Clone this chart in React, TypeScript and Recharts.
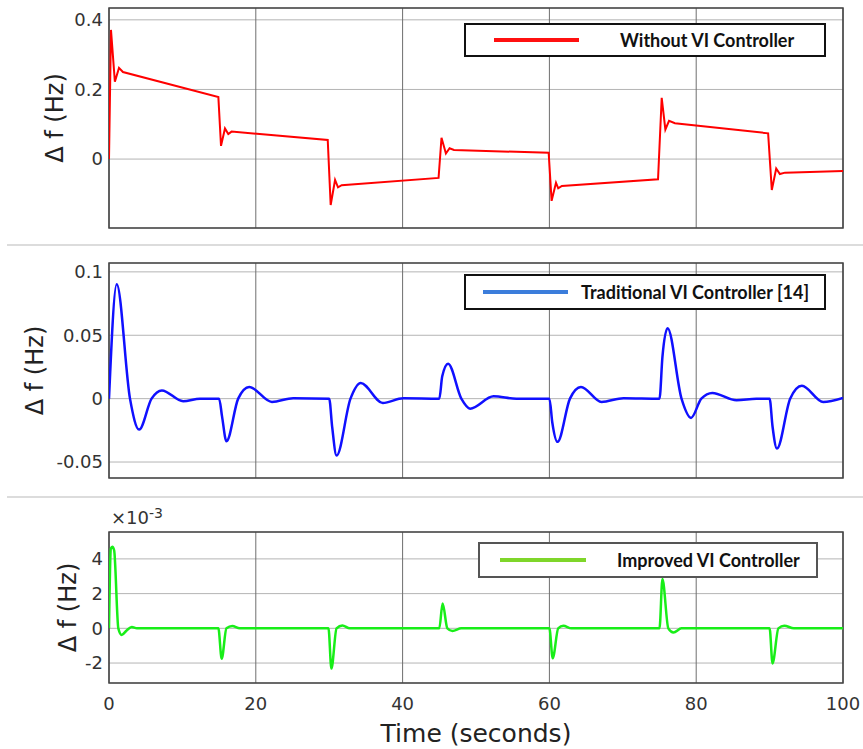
import React from "react";
import {
  LineChart,
  Line,
  XAxis,
  YAxis,
  CartesianGrid,
  ReferenceArea,
  Legend,
} from "recharts";

// time axis (seconds)
const timeTicks = [0, 20, 40, 60, 80, 100];

// Without VI controller (Hz)
const withoutT = [
  0, 0.27, 0.8, 1.36, 1.9, 14.9, 15.26, 15.8, 16.25, 16.7, 29.8, 30.2, 30.8,
  31.2, 31.7, 44.9, 45.3, 45.9, 46.4, 47.0, 59.9, 60.3, 60.9, 61.2, 61.7, 74.8,
  75.3, 75.8, 76.3, 77.1, 89.8, 90.3, 90.9, 91.4, 92.1, 100,
];
const withoutF = [
  0, 0.371, 0.222, 0.262, 0.25, 0.178, 0.038, 0.088, 0.072, 0.079, 0.055,
  -0.132, -0.06, -0.081, -0.075, -0.054, 0.061, 0.016, 0.031, 0.026, 0.018,
  -0.12, -0.068, -0.084, -0.077, -0.058, 0.176, 0.085, 0.11, 0.103, 0.074,
  -0.089, -0.027, -0.043, -0.039, -0.034,
];

// Traditional VI controller [14] (Hz)
const traditionalT = [
  0, 1.05, 2.86, 4.1, 5.8, 7.2, 10.1, 12.4, 15.0, 15.4, 16.0, 17.6, 19.1, 22.2,
  25.1, 30.0, 30.4, 31.0, 32.9, 34.3, 37.3, 40.1, 45.0, 45.4, 46.2, 48.0, 49.2,
  52.4, 55.5, 60.0, 60.4, 61.1, 62.8, 64.3, 67.1, 70.1, 75.0, 75.4, 76.1, 78.0,
  79.3, 80.7, 82.2, 85.5, 88.2, 90.0, 90.4, 91.0, 92.8, 94.4, 97.3, 100,
];
const traditionalF = [
  0, 0.0903, 0, -0.0244, 0, 0.0065, -0.0021, 0, 0, -0.014, -0.0336, 0, 0.0092,
  -0.0026, 0.0004, 0, -0.022, -0.0449, 0, 0.0124, -0.0034, 0.0003, 0, 0.0176,
  0.0275, 0, -0.0079, 0.0018, 0, 0, -0.019, -0.0341, 0, 0.0092, -0.0026, 0.0004,
  0, 0.033, 0.0556, 0, -0.0152, 0, 0.0045, -0.0013, 0, 0, -0.022, -0.0394, 0,
  0.0102, -0.0026, 0.0005,
];

// Improved VI controller (x10^-3 Hz)
const improvedT = [
  0, 0.25, 0.45, 0.7, 1.27, 1.73, 2.4, 3.1, 3.8, 14.9, 15.35, 16.0, 16.8, 17.8,
  29.9, 30.3, 31.0, 31.8, 32.8, 45.0, 45.45, 46.1, 46.8, 48.0, 60.0, 60.45,
  61.2, 61.9, 63.0, 75.0, 75.4, 76.2, 76.9, 78.0, 90.0, 90.4, 91.2, 92.0, 93.3,
  100,
];
const improvedF = [
  0, 4.6, 4.7, 4.5, 0, -0.38, -0.12, 0.08, 0, 0, -1.75, 0, 0.13, 0, 0, -2.32, 0,
  0.17, 0, 0, 1.43, 0, -0.15, 0, 0, -1.73, 0, 0.15, 0, 0, 2.84, 0, -0.24, 0, 0,
  -2.02, 0, 0.15, 0, 0,
];

const withoutTicks = [0, 0.2, 0.4];
const traditionalTicks = [-0.05, 0, 0.05, 0.1];
const improvedTicks = [-2, 0, 2, 4];

const toRows = (t: number[], f: number[]) =>
  t.map((x, i) => ({ t: x, f: f[i] }));

const axisFont = "'DejaVu Sans', sans-serif";

type LegendSpec = {
  label: string;
  color: string;
  border: string;
  left: number;
  top: number;
  w: number;
  h: number;
  pad: number;
  swatch: number;
  gap: number;
};

const LegendBox = ({ spec }: { spec: LegendSpec }) => (
  <div
    style={{
      width: spec.w,
      height: spec.h,
      boxSizing: "border-box",
      border: `2px solid ${spec.border}`,
      background: "#fff",
      display: "flex",
      alignItems: "center",
      paddingLeft: spec.pad,
    }}
  >
    <span
      style={{
        display: "inline-block",
        width: spec.swatch,
        height: 4,
        background: spec.color,
        marginRight: spec.gap,
      }}
    />
    <span
      style={{
        fontFamily: "Lato, sans-serif",
        fontWeight: 700,
        fontSize: 18,
        color: "#111",
        whiteSpace: "nowrap",
      }}
    >
      {spec.label}
    </span>
  </div>
);

type PanelProps = {
  top: number;
  height: number;
  margin: { top: number; right: number; bottom: number; left: number };
  rows: { t: number; f: number }[];
  domain: [number, number];
  ticks: number[];
  labelOffset: number;
  color: string;
  width: number;
  curve: "linear" | "monotone";
  legend: LegendSpec;
  showTime?: boolean;
};

const Panel = (p: PanelProps) => (
  <div style={{ position: "absolute", left: 0, top: p.top }}>
    <LineChart width={863} height={p.height} data={p.rows} margin={p.margin}>
      <CartesianGrid stroke="#b4b4b4" vertical={false} />
      <CartesianGrid stroke="#6e6e6e" horizontal={false} />
      <XAxis
        type="number"
        dataKey="t"
        domain={[0, 100]}
        ticks={timeTicks}
        allowDataOverflow
        hide={!p.showTime}
        height={p.showTime ? 66 : 0}
        axisLine={false}
        tickLine={false}
        tickSize={6}
        tickMargin={8}
        tick={{ fontSize: 18, fill: "#333", fontFamily: axisFont }}
        label={
          p.showTime
            ? {
                value: "Time (seconds)",
                position: "insideBottom",
                offset: 7,
                style: { fontSize: 25, fill: "#222", fontFamily: axisFont },
              }
            : undefined
        }
      />
      <YAxis
        type="number"
        width={109}
        domain={p.domain}
        ticks={p.ticks}
        allowDataOverflow
        axisLine={false}
        tickLine={false}
        tickSize={6}
        tickMargin={0}
        tick={{ fontSize: 18, fill: "#333", fontFamily: axisFont }}
        label={{
          value: "Δ f (Hz)",
          angle: -90,
          position: "insideLeft",
          offset: p.labelOffset,
          style: {
            fontSize: 24,
            fill: "#222",
            fontFamily: axisFont,
            textAnchor: "middle",
          },
        }}
      />
      <ReferenceArea
        x1={0}
        x2={100}
        y1={p.domain[0]}
        y2={p.domain[1]}
        fill="none"
        stroke="#444"
        strokeWidth={1.5}
        ifOverflow="visible"
      />
      <Line
        type={p.curve}
        dataKey="f"
        stroke={p.color}
        strokeWidth={p.width}
        dot={false}
        isAnimationActive={false}
      />
      <Legend
        layout="horizontal"
        verticalAlign="middle"
        align="center"
        wrapperStyle={{
          left: p.legend.left,
          top: p.legend.top,
          width: p.legend.w,
          height: p.legend.h,
        }}
        content={() => <LegendBox spec={p.legend} />}
      />
    </LineChart>
  </div>
);

const Separator = ({ y }: { y: number }) => (
  <div
    style={{
      position: "absolute",
      left: 7,
      top: y,
      width: 856,
      height: 2,
      background: "#dcdcdc",
    }}
  />
);

export default function App() {
  return (
    <div
      style={{
        position: "absolute",
        left: 0,
        top: 0,
        width: 863,
        height: 749,
        background: "#fff",
        overflow: "hidden",
      }}
    >
      <Panel
        top={0}
        height={245}
        margin={{ top: 8, right: 20, bottom: 17, left: 0 }}
        rows={toRows(withoutT, withoutF)}
        domain={[-0.198, 0.434]}
        ticks={withoutTicks}
        labelOffset={54}
        color="#ff0000"
        width={2}
        curve="linear"
        legend={{
          label: "Without VI Controller",
          color: "#ff1010",
          border: "#111",
          left: 464,
          top: 23,
          w: 362,
          h: 34,
          pad: 28,
          swatch: 85,
          gap: 41,
        }}
      />
      <Panel
        top={245}
        height={252}
        margin={{ top: 18, right: 20, bottom: 19, left: 0 }}
        rows={toRows(traditionalT, traditionalF)}
        domain={[-0.0626, 0.107]}
        ticks={traditionalTicks}
        labelOffset={34}
        color="#1010ff"
        width={2.5}
        curve="monotone"
        legend={{
          label: "Traditional VI Controller [14]",
          color: "#3b7ddb",
          border: "#111",
          left: 464,
          top: 29,
          w: 362,
          h: 36,
          pad: 17,
          swatch: 85,
          gap: 13,
        }}
      />
      <Panel
        top={497}
        height={252}
        margin={{ top: 35, right: 20, bottom: 0, left: 0 }}
        rows={toRows(improvedT, improvedF)}
        domain={[-3.15, 5.55]}
        ticks={improvedTicks}
        labelOffset={67}
        color="#18ee18"
        width={2.5}
        curve="monotone"
        showTime
        legend={{
          label: "Improved VI Controller",
          color: "#7fd62a",
          border: "#555",
          left: 478,
          top: 45,
          w: 340,
          h: 36,
          pad: 20,
          swatch: 86,
          gap: 31,
        }}
      />
      <Separator y={244} />
      <Separator y={496} />
      <div
        style={{
          position: "absolute",
          left: 111,
          top: 509,
          fontFamily: axisFont,
          fontSize: 18,
          color: "#333",
          lineHeight: 1,
          whiteSpace: "nowrap",
        }}
      >
        ×10
        <span style={{ fontSize: 14, position: "relative", top: -6 }}>-3</span>
      </div>
    </div>
  );
}
